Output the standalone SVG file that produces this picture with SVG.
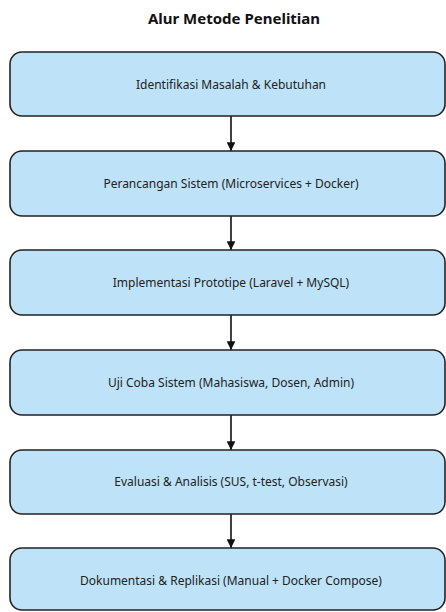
<svg xmlns="http://www.w3.org/2000/svg" width="446" height="612" viewBox="0 0 446 612">
<style>
.bg{fill:#ffffff}
.box{fill:#bee3f8;stroke:#222;stroke-width:1.6}
.lbl{font-family:"Noto Sans","Liberation Sans",sans-serif;font-size:12px;fill:#222;text-anchor:middle;dominant-baseline:central}
.title{font-family:"Noto Sans","Liberation Sans",sans-serif;font-size:15px;font-weight:bold;fill:#111;text-anchor:middle;dominant-baseline:central}
.edge{stroke:#111;stroke-width:1.6;fill:none}
</style>
<defs>
<marker id="arr" viewBox="0 0 10 10" refX="10" refY="5" markerWidth="5.5" markerHeight="5.5" markerUnits="strokeWidth" orient="auto">
<path d="M0,0 L10,5 L0,10 z" fill="#111"/>
</marker>
</defs>
<rect class="bg" x="0" y="0" width="446" height="612"/>
<text class="title" x="234" y="18">Alur Metode Penelitian</text>
<g id="connectors">
<line class="edge" x1="231" y1="116" x2="231" y2="151" marker-end="url(#arr)"/>
<line class="edge" x1="231" y1="216" x2="231" y2="250" marker-end="url(#arr)"/>
<line class="edge" x1="231" y1="315" x2="231" y2="350" marker-end="url(#arr)"/>
<line class="edge" x1="231" y1="415" x2="231" y2="450" marker-end="url(#arr)"/>
<line class="edge" x1="231" y1="514" x2="231" y2="548" marker-end="url(#arr)"/>
</g>
<g id="n1"><rect class="box" x="10" y="52" width="435" height="64" rx="12"/><text class="lbl" x="231" y="84">Identifikasi Masalah &amp; Kebutuhan</text></g>
<g id="n2"><rect class="box" x="10" y="151" width="435" height="65" rx="12"/><text class="lbl" x="231" y="183">Perancangan Sistem (Microservices + Docker)</text></g>
<g id="n3"><rect class="box" x="10" y="250" width="435" height="65" rx="12"/><text class="lbl" x="231" y="282">Implementasi Prototipe (Laravel + MySQL)</text></g>
<g id="n4"><rect class="box" x="10" y="350" width="435" height="65" rx="12"/><text class="lbl" x="231" y="382">Uji Coba Sistem (Mahasiswa, Dosen, Admin)</text></g>
<g id="n5"><rect class="box" x="10" y="450" width="435" height="64" rx="12"/><text class="lbl" x="231" y="481">Evaluasi &amp; Analisis (SUS, t-test, Observasi)</text></g>
<g id="n6"><rect class="box" x="10" y="548" width="435" height="62" rx="12"/><text class="lbl" x="231" y="580">Dokumentasi &amp; Replikasi (Manual + Docker Compose)</text></g>
</svg>
